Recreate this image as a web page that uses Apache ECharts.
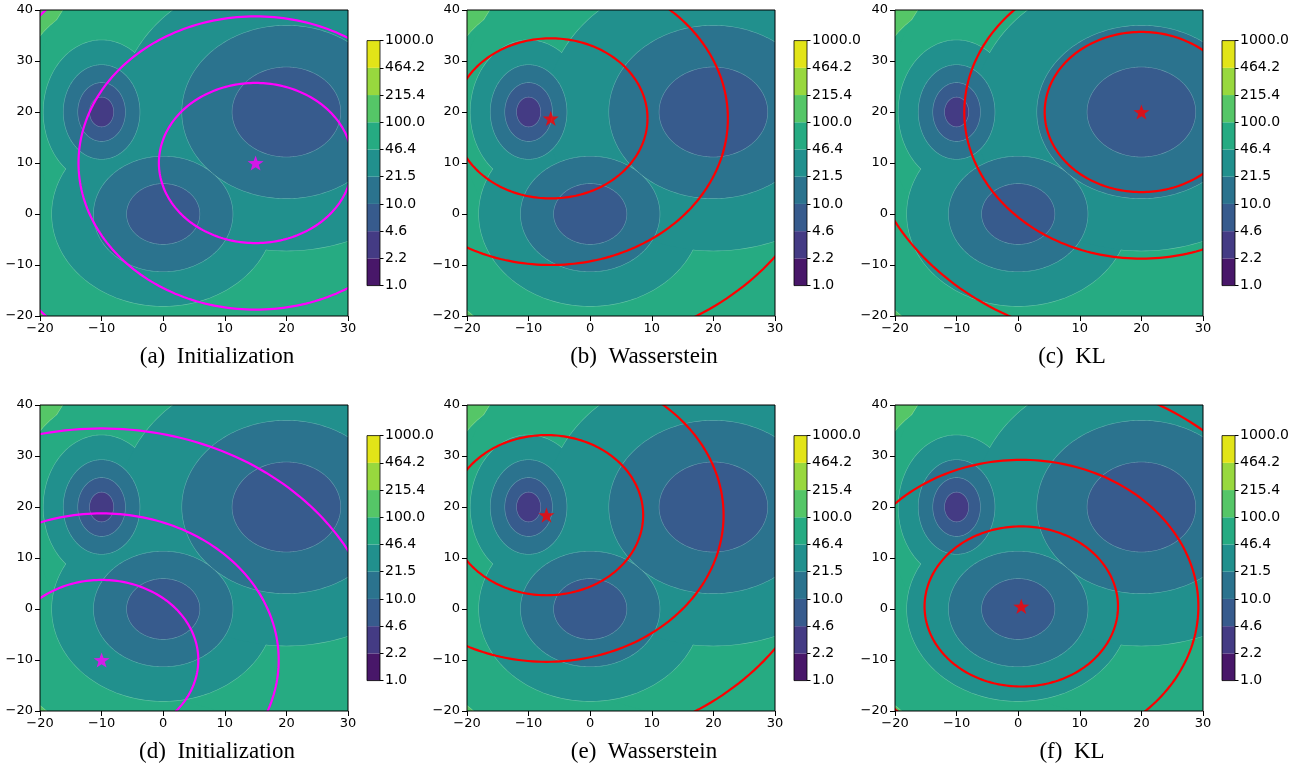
<!DOCTYPE html>
<html>
<head>
<meta charset="utf-8">
<script src="https://cdn.jsdelivr.net/npm/echarts@6/dist/echarts.min.js"></script>
<style>
  html, body { margin: 0; padding: 0; background: #ffffff; }
  #chart { width: 1307px; height: 774px; }
</style>
</head>
<body>
<div id="chart"></div>
<script>
// Log-spaced contour levels and the colorbar tick labels
const levels = [1.0, 2.154, 4.642, 10.0, 21.54, 46.42, 100.0, 215.4, 464.2, 1000.0];
const levelLabels = ['1.0', '2.2', '4.6', '10.0', '21.5', '46.4', '100.0', '215.4', '464.2', '1000.0'];
const bandColors = ['#481769', '#443b84', '#375b8d', '#2b738e', '#21908d', '#26ab82', '#55c667', '#98d83e', '#e2e418'];

// Target energy: three quadratic wells, f = base + kx*dx^2 + ky*dy^2, field = min over wells
const wellCenters = [[-10, 20], [0, 0], [20, 20]];
const wellBase = [2.85, 5.65, 5.77];
const wellCurvX = [0.49, 0.125, 0.055];
const wellCurvY = [0.22, 0.125, 0.055];

// Fitted Gaussian in each panel: mean and its three contour radii
const panelTitles = ['(a)\u2002Initialization', '(b)\u2002Wasserstein', '(c)\u2002KL',
                     '(d)\u2002Initialization', '(e)\u2002Wasserstein', '(f)\u2002KL'];
const fitMeans = [[15, 10], [-6.4, 18.75], [20, 20], [-10, -10], [-7.1, 18.4], [0.5, 0.5]];
const fitRadii = [15.7, 28.75, 45.4];
const fitColors = ['#ff00ff', '#ff0000', '#ff0000', '#ff00ff', '#ff0000', '#ff0000'];

// Axis ranges
const xRange = [-20, 30];
const yRange = [-20, 40];
const tickStep = 10;

// Layout
const colLeft = [40, 467, 895];
const rowTop = [10, 405];
const plotW = 308, plotH = 306;
const cbOffset = 327, cbW = 13, cbH = 245, cbTopPad = 30.6;
const captionY = [345, 740];

const STAR = 'path://M0,-10 L2.35,-3.24 L9.51,-3.09 L3.8,1.24 L5.88,8.09 L0,4 L-5.88,8.09 L-3.8,1.24 L-9.51,-3.09 L-2.35,-3.24 Z';
const tickFont = { fontFamily: 'DejaVu Sans', fontSize: 13, color: '#000' };
const cbFont = { fontFamily: 'DejaVu Sans', fontSize: 14, color: '#000' };
const minus = v => String(v).replace('-', '\u2212');

function ellipsePoints(api, cx, cy, rx, ry, n) {
  const pts = [];
  for (let i = 0; i <= n; i++) {
    const t = (i / n) * Math.PI * 2;
    pts.push(api.coord([cx + rx * Math.cos(t), cy + ry * Math.sin(t)]));
  }
  return pts;
}

// Filled contour bands: sub-level set {f < L} is a union of ellipses, painted from high to low level
const contourItems = [];
for (let k = levels.length - 3; k >= 1; k--) {
  for (let pass = 0; pass < 2; pass++) {
    for (let w = 0; w < wellCenters.length; w++) contourItems.push([k, w, pass]);
  }
}

function renderContour(params, api) {
  const k = api.value(0), w = api.value(1), pass = api.value(2);
  const L = levels[k], base = wellBase[w];
  if (L <= base) return { type: 'group', children: [] };
  const rx = Math.sqrt((L - base) / wellCurvX[w]);
  const ry = Math.sqrt((L - base) / wellCurvY[w]);
  const pts = ellipsePoints(api, wellCenters[w][0], wellCenters[w][1], rx, ry, 240);
  return {
    type: 'polygon',
    shape: { points: pts },
    style: pass === 0
      ? { fill: 'none', stroke: 'rgba(255,255,255,0.28)', lineWidth: 1.2 }
      : { fill: bandColors[k - 1], stroke: 'none' }
  };
}

function renderFit(color) {
  return function (params, api) {
    const cx = api.value(0), cy = api.value(1), r = api.value(2);
    return {
      type: 'polyline',
      shape: { points: ellipsePoints(api, cx, cy, r, r, 240) },
      style: { stroke: color, lineWidth: 2.2, fill: 'none' }
    };
  };
}

function renderBand(params, api) {
  const i = api.value(0);
  const p0 = api.coord([0, i + 1]);
  const p1 = api.coord([1, i]);
  return {
    type: 'rect',
    shape: { x: p0[0], y: p0[1], width: p1[0] - p0[0], height: p1[1] - p0[1] },
    style: { fill: bandColors[i] }
  };
}

const grid = [], xAxis = [], yAxis = [], series = [], title = [];

for (let p = 0; p < 6; p++) {
  const col = p % 3, row = Math.floor(p / 3);
  const left = colLeft[col], top = rowTop[row];

  // main contour panel
  const gi = grid.length;
  grid.push({ left: left, top: top, width: plotW, height: plotH, show: true,
              borderColor: '#000', borderWidth: 1, backgroundColor: 'transparent', z: 5 });
  xAxis.push({
    gridIndex: gi, type: 'value', min: xRange[0], max: xRange[1], interval: tickStep, position: 'bottom',
    axisLine: { show: false, onZero: false }, splitLine: { show: false }, minorTick: { show: false },
    axisTick: { show: true, length: 5, lineStyle: { color: '#000', width: 1 } },
    axisLabel: Object.assign({ margin: 6, formatter: minus, showMinLabel: true, showMaxLabel: true }, tickFont)
  });
  yAxis.push({
    gridIndex: gi, type: 'value', min: yRange[0], max: yRange[1], interval: tickStep, position: 'left',
    axisLine: { show: false, onZero: false }, splitLine: { show: false }, minorTick: { show: false },
    axisTick: { show: true, length: 5, lineStyle: { color: '#000', width: 1 } },
    axisLabel: Object.assign({ margin: 7, formatter: minus, showMinLabel: true, showMaxLabel: true }, tickFont)
  });
  series.push({
    type: 'custom', xAxisIndex: gi, yAxisIndex: gi, clip: true, silent: true,
    encode: { x: 0, y: 1 },
    renderItem: renderContour, data: contourItems, z: 1, animation: false
  });
  series.push({
    type: 'custom', xAxisIndex: gi, yAxisIndex: gi, clip: true, silent: true,
    renderItem: renderFit(fitColors[p]),
    data: fitRadii.map(r => [fitMeans[p][0], fitMeans[p][1], r]), z: 3, animation: false
  });
  series.push({
    type: 'scatter', xAxisIndex: gi, yAxisIndex: gi, silent: true,
    symbol: STAR, symbolSize: 16, symbolKeepAspect: true,
    itemStyle: { color: fitColors[p] }, data: [fitMeans[p]], z: 4, animation: false
  });

  // colorbar
  const ci = grid.length;
  grid.push({ left: left + cbOffset, top: top + cbTopPad, width: cbW, height: cbH, show: true,
              borderColor: '#000', borderWidth: 0.8, backgroundColor: 'transparent', z: 5 });
  xAxis.push({ gridIndex: ci, type: 'value', min: 0, max: 1, show: false });
  yAxis.push({
    gridIndex: ci, type: 'value', min: 0, max: 9, interval: 1, position: 'right',
    axisLine: { show: false, onZero: false }, splitLine: { show: false },
    axisTick: { show: true, length: 3.5, lineStyle: { color: '#000', width: 1 } },
    axisLabel: Object.assign({ margin: 5, formatter: v => levelLabels[v],
                               showMinLabel: true, showMaxLabel: true }, cbFont)
  });
  series.push({
    type: 'custom', xAxisIndex: ci, yAxisIndex: ci, silent: true,
    renderItem: renderBand, data: bandColors.map((c, i) => [i]), animation: false
  });

  // caption
  title.push({
    text: panelTitles[p], left: left + 177, top: captionY[row], textAlign: 'center', padding: 0,
    textStyle: { fontFamily: 'Liberation Serif', fontSize: 23, fontWeight: 'normal', color: '#000' }
  });
}

const chart = echarts.init(document.getElementById('chart'), null, { renderer: 'canvas' });
chart.setOption({ animation: false, title, grid, xAxis, yAxis, series });
</script>
</body>
</html>
